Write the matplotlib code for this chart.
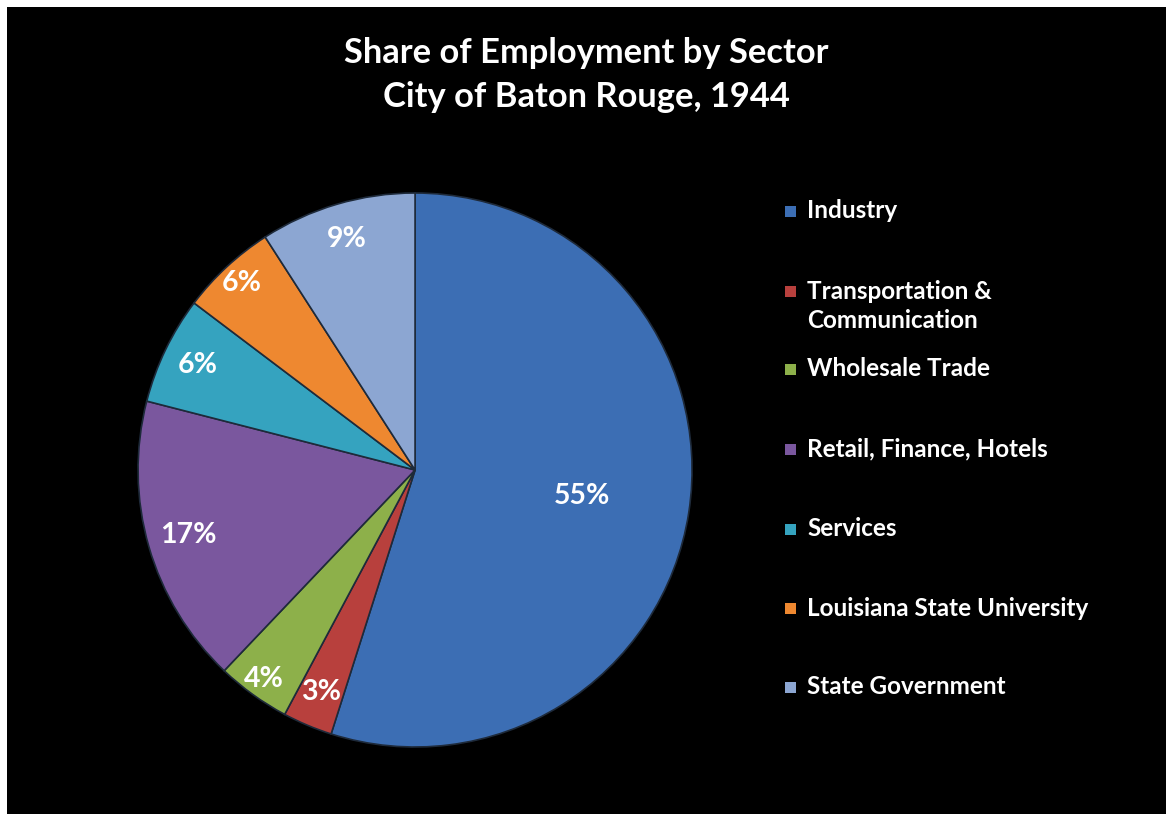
import matplotlib
matplotlib.use("Agg")
import numpy as np
import matplotlib.pyplot as plt
from matplotlib.patches import Rectangle

sectors = [
    "Industry",
    "Transportation &\nCommunication",
    "Wholesale Trade",
    "Retail, Finance, Hotels",
    "Services",
    "Louisiana State University",
    "State Government",
]
shares = [54.9, 2.9, 4.3, 16.9, 6.3, 5.6, 9.1]
colors = ["#3C6EB4", "#B8403D", "#8DB04A", "#7A579E", "#35A3BF", "#EE8830", "#8CA6D2"]

FONT = "Lato"

fig = plt.figure(figsize=(11.7, 8.14), dpi=100, facecolor="white")

# black chart area inside a thin white frame
fig.patches.append(Rectangle((7 / 1170, 0), 1159 / 1170, 807 / 814,
                             transform=fig.transFigure, facecolor="black",
                             edgecolor="none", zorder=-10))

ax = fig.add_axes([0.118, 0.0823, 0.4735, 0.6806])
ax.set_facecolor("none")

wedges, _ = ax.pie(shares, colors=colors, startangle=90, counterclock=False,
                   radius=1.0,
                   wedgeprops=dict(edgecolor="#1E2A3A", linewidth=1.2))

# percentage labels
total = sum(shares)
dists = [0.61, 0.87, 0.93, 0.85, 0.87, 0.92, 0.87]
for w, v, d in zip(wedges, shares, dists):
    mid = np.deg2rad((w.theta1 + w.theta2) / 2)
    ax.text(d * np.cos(mid), d * np.sin(mid), f"{round(100 * v / total)}%",
            ha="center", va="center", color="white", fontsize=20.5,
            fontweight="bold", family=FONT)

ax.set_xlim(-1, 1)
ax.set_ylim(-1, 1)
ax.axis("off")

fig.text(0.501, 1 - 75 / 814, "Share of Employment by Sector\nCity of Baton Rouge, 1944",
         ha="center", va="center", color="white", fontsize=24.8, fontweight="bold",
         family=FONT, linespacing=1.43)

# legend, evenly spaced entries
leg_y = [211, 291, 369, 449, 529, 608, 687]
for lab, col, yp in zip(sectors, colors, leg_y):
    yf = 1 - yp / 814
    fig.patches.append(Rectangle((785 / 1170, yf - 5.5 / 814), 11 / 1170, 11 / 814,
                                 transform=fig.transFigure, facecolor=col,
                                 edgecolor="none"))
    ty = yf - 15 / 814 if "\n" in lab else yf
    fig.text(807 / 1170, ty, lab, ha="left", va="center",
             color="white", fontsize=17.5, fontweight="bold", family=FONT,
             linespacing=1.35)

fig.savefig("out.png", dpi=100, facecolor=fig.get_facecolor())
